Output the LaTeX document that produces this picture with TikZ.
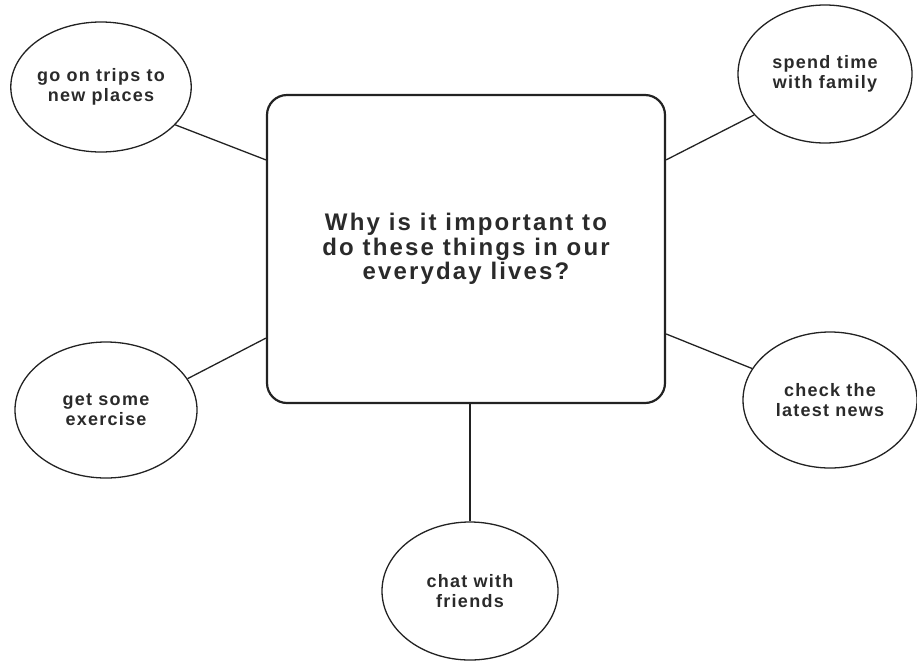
\documentclass[tikz,border=0pt]{standalone}
\usepackage{fontspec}
\setmainfont{Liberation Sans}
\newfontfamily\boxfont[LetterSpace=9]{Liberation Sans}
\newfontfamily\bubblefont[LetterSpace=7]{Liberation Sans}
\usetikzlibrary{shapes.geometric}
\definecolor{ink}{HTML}{222222}
\definecolor{txt}{HTML}{2A2A2A}
\tikzset{
  bubble/.style={ellipse, draw=ink, line width=1.3pt, inner sep=0pt,
    minimum width=176pt, minimum height=136pt, align=center, text=txt,
    font=\bubblefont\bfseries\fontsize{18}{20}\selectfont},
  bigbox/.style={rectangle, rounded corners=20pt, draw=ink, line width=2.2pt,
    inner sep=0pt, minimum width=398pt, minimum height=308pt, align=center,
    text=txt, font=\boxfont\bfseries\fontsize{24}{24.5}\selectfont},
  link/.style={draw=ink, line width=1.3pt}
}
\begin{document}
\begin{tikzpicture}[x=1pt,y=-1pt]
\useasboundingbox (0,0) rectangle (917,662);
\node[bigbox] (box) at (466,249) {Why is it important to\\do these things in our\\everyday lives?};
\node[bubble, minimum width=176pt, minimum height=130pt] (trips) at (101,87) {go on trips to\\new places};
\node[bubble, minimum width=174pt, minimum height=138pt] (family) at (825,74) {spend time\\with family};
\node[bubble, minimum width=182pt, minimum height=136pt] (exercise) at (106,410) {get some\\exercise};
\node[bubble, minimum width=174pt, minimum height=136pt] (news) at (830,400) {check the\\latest news};
\node[bubble, minimum width=176pt, minimum height=138pt] (chat) at (470,591) {chat with\\friends};
\draw[link] (trips.-27) -- (box.156.6);
\draw[link] (family.210.8) -- (box.24.8);
\draw[link] (exercise.21.6) -- (box.204.6);
\draw[link] (news.158.7) -- (box.-23.4);
\draw[link] (chat.north) -- (chat.north |- box.south);
\end{tikzpicture}
\end{document}
